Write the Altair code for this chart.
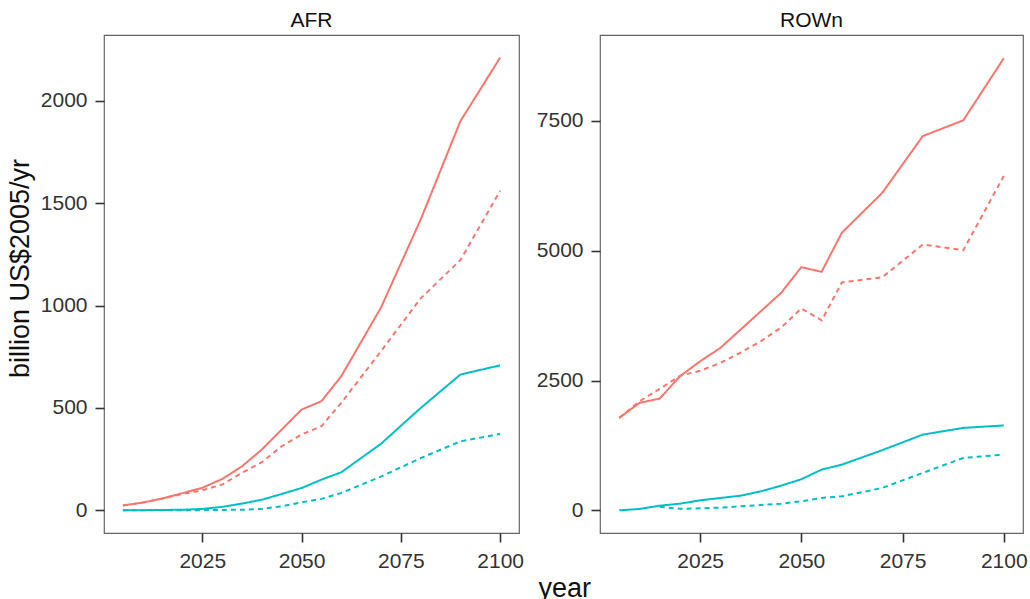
import altair as alt
import pandas as pd

years = [2005, 2010, 2015, 2020, 2025, 2030, 2035, 2040, 2045, 2050, 2055, 2060, 2070, 2080, 2090, 2100]

afr_red_solid = [24, 38, 58, 84, 110, 153, 215, 297, 394, 492, 533, 655, 990, 1420, 1900, 2210]
afr_red_dashed = [24, 38, 58, 80, 98, 126, 183, 235, 313, 370, 411, 525, 777, 1035, 1222, 1560]
afr_teal_solid = [0, 1, 2, 3, 7, 17, 33, 52, 80, 109, 150, 186, 325, 500, 663, 708]
afr_teal_dashed = [0, 0, 0, 0, 1, 2, 3, 7, 20, 39, 56, 85, 165, 255, 337, 373]

rown_red_solid = [1781, 2070, 2153, 2583, 2872, 3130, 3483, 3836, 4190, 4684, 4595, 5347, 6118, 7209, 7512, 8707]
rown_red_dashed = [1781, 2100, 2340, 2590, 2690, 2840, 3040, 3260, 3520, 3890, 3660, 4390, 4490, 5120, 5010, 6440]
rown_teal_solid = [0, 27, 90, 129, 193, 239, 283, 366, 476, 600, 785, 881, 1160, 1459, 1588, 1636]
rown_teal_dashed = [None, None, 70, 30, 40, 52, 78, 104, 129, 175, 239, 270, 432, 721, 1010, 1074]

groups = ["red", "teal"]
linetypes = ["solid", "dashed"]
colors = ["#F8766D", "#00BFC4"]
FONT = "Liberation Sans"


def build(series):
    rows = []
    for (grp, lt), vals in series.items():
        for y, v in zip(years, vals):
            if v is not None:
                rows.append({"year": y, "value": v, "grp": grp, "lt": lt})
    return pd.DataFrame(rows)


afr = build({("red", "solid"): afr_red_solid, ("red", "dashed"): afr_red_dashed,
             ("teal", "solid"): afr_teal_solid, ("teal", "dashed"): afr_teal_dashed})
rown = build({("red", "solid"): rown_red_solid, ("red", "dashed"): rown_red_dashed,
              ("teal", "solid"): rown_teal_solid, ("teal", "dashed"): rown_teal_dashed})


def panel(df, title, ydom, yticks, ytitle, width):
    yaxis = dict(values=yticks, format="d", title=ytitle)
    if ytitle:
        yaxis.update(titleY=233, titleAngle=270, titleAlign="center", titlePadding=6)
    return alt.Chart(df).mark_line(strokeWidth=2).encode(
        x=alt.X("year:Q", scale=alt.Scale(domain=[2000.25, 2104.75], nice=False, zero=False),
                axis=alt.Axis(values=[2025, 2050, 2075, 2100], format="d", title=None)),
        y=alt.Y("value:Q", scale=alt.Scale(domain=ydom, nice=False, zero=False),
                axis=alt.Axis(**yaxis)),
        color=alt.Color("grp:N", scale=alt.Scale(domain=groups, range=colors), legend=None),
        strokeDash=alt.StrokeDash("lt:N", scale=alt.Scale(domain=linetypes, range=[[1, 0], [5, 4]]),
                                  legend=None),
    ).properties(
        width=width, height=498,
        title=alt.TitleParams(title, fontSize=21, fontWeight="normal", font=FONT, color="#111",
                              baseline="alphabetic", offset=-13, anchor="middle", frame="group"),
    )


left = panel(afr, "AFR", [-110.5, 2320.5], [0, 500, 1000, 1500, 2000], "billion US$2005/yr", 415)
right = panel(rown, "ROWn", [-436, 9156], [0, 2500, 5000, 7500], None, 423)

chart = alt.hconcat(left, right, spacing=10).properties(
    title=alt.TitleParams("year", orient="bottom", anchor="middle", fontSize=27, fontWeight="normal",
                          font=FONT, color="#111", offset=4, dx=48),
    padding={"left": 5, "top": 9, "right": 0, "bottom": -3},
    background="white",
).configure_view(
    stroke="#666", strokeWidth=1.2
).configure_axis(
    domain=False, grid=False, ticks=True, tickSize=9, tickWidth=1.6, tickColor="#333",
    labelFont=FONT, labelFontSize=21, labelColor="#333", labelPadding=8,
    titleFont=FONT, titleFontSize=27, titleColor="#111", titleFontWeight="normal",
)

chart.save("out.html", embed_options={"renderer": "svg", "actions": False})
